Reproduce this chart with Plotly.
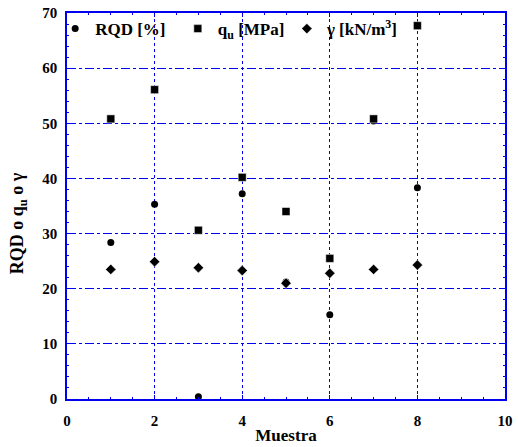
import plotly.graph_objects as go

muestra = [1, 2, 3, 4, 5, 6, 7, 8]
rqd = [28.4, 35.3, 0.4, 37.2, 21.2, 15.3, 50.4, 38.3]
qu = [50.8, 56.1, 30.6, 40.2, 34.0, 25.5, 50.8, 67.7]
gamma = [23.5, 24.9, 23.8, 23.3, 21.0, 22.8, 23.5, 24.3]

x_ticks = [0, 2, 4, 6, 8, 10]
y_ticks = [0, 10, 20, 30, 40, 50, 60, 70]

FONT = "Liberation Serif"
BLUE = "#0000ee"

fig = go.Figure()
fig.add_trace(go.Scatter(x=muestra, y=rqd, mode="markers", name="RQD [%]",
                         legend="legend", showlegend=True,
                         marker=dict(symbol="circle", size=7, color="black")))
fig.add_trace(go.Scatter(x=muestra, y=qu, mode="markers", name="q<sub>u</sub> [MPa]",
                         legend="legend2", showlegend=True,
                         marker=dict(symbol="square", size=8, color="black",
                                     line=dict(color="white", width=0.5))))
fig.add_trace(go.Scatter(x=muestra, y=gamma, mode="markers", name="γ [kN/m<sup>3</sup>]",
                         legend="legend3", showlegend=True,
                         marker=dict(symbol="diamond", size=8, color="black",
                                     line=dict(color="white", width=0.5))))

axis_common = dict(
    showline=True, linecolor=BLUE, linewidth=1.5, mirror="ticks",
    ticks="inside", tickcolor=BLUE, ticklen=4,
    showgrid=True, gridcolor=BLUE, gridwidth=1,
    zeroline=False, ticklabeloverflow="allow",
    tickfont=dict(family=FONT, size=15, color="black", weight="bold"),
)

fig.update_xaxes(range=[0, 10], tickvals=x_ticks, griddash="dot",
                 ticklabelstandoff=7,
                 minor=dict(ticks="inside", ticklen=2, tickcolor=BLUE, dtick=0.5,
                            showgrid=False),
                 title=dict(text="Muestra", standoff=1,
                            font=dict(family=FONT, size=17, color="black", weight="bold")),
                 **axis_common)
fig.update_yaxes(range=[0, 70], tickvals=y_ticks, griddash="dashdot",
                 ticklabelstandoff=5,
                 minor=dict(ticks="inside", ticklen=2, tickcolor=BLUE, dtick=2,
                            showgrid=False),
                 **axis_common)

# vertical axis title, set slightly below the plot centre
fig.add_annotation(text="RQD o q<sub>u</sub> o γ", textangle=-90,
                   xref="paper", yref="paper", x=-0.11, y=0.455,
                   xanchor="center", yanchor="middle", showarrow=False,
                   font=dict(family=FONT, size=18, color="black", weight="bold"))

legend_font = dict(family=FONT, size=17, color="black", weight="bold")
legend_common = dict(y=1.005, xanchor="left", yanchor="top", itemwidth=30,
                     bgcolor="rgba(0,0,0,0)", font=legend_font)

fig.update_layout(
    width=518, height=447,
    margin=dict(l=67, r=5, t=11, b=47),
    plot_bgcolor="white", paper_bgcolor="white",
    showlegend=True,
    legend=dict(x=-0.027, **legend_common),
    legend2=dict(x=0.253, **legend_common),
    legend3=dict(x=0.502, **legend_common),
)

fig.write_html("out.html")
